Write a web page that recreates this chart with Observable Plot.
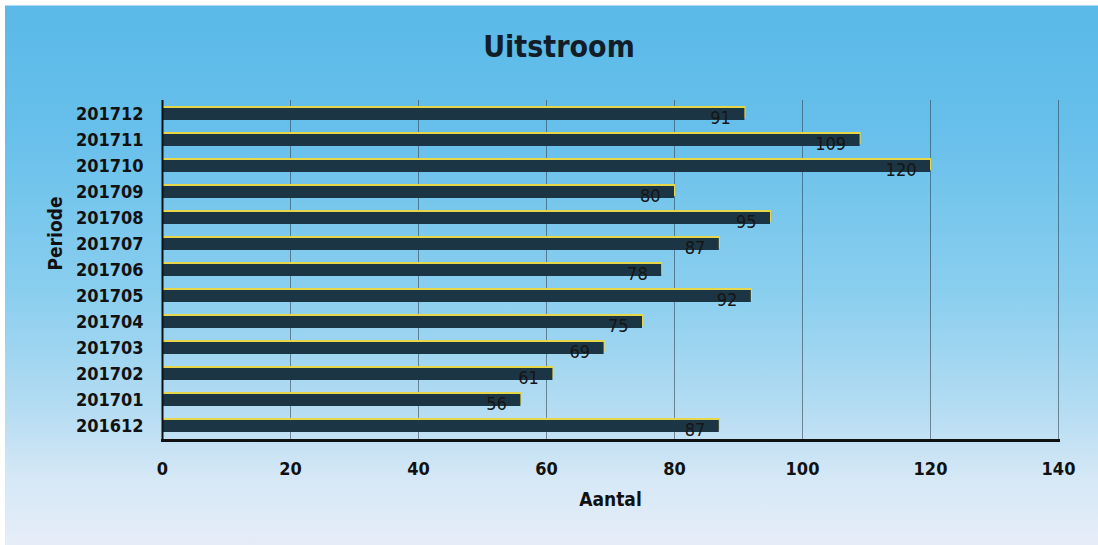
<!DOCTYPE html>
<html>
<head>
<meta charset="utf-8">
<script src="https://cdn.jsdelivr.net/npm/d3@7"></script>
<script src="https://cdn.jsdelivr.net/npm/@observablehq/plot@0.6"></script>
<style>
  html, body { margin: 0; padding: 0; background: #fff; }
  #wrap {
    position: relative; width: 1098px; height: 545px; overflow: hidden;
    background: linear-gradient(to bottom, #ffffff 0px, #ffffff 5px, #5ab9e8 6px, #68c0eb 25%, #8ccfef 55%, #b4dcf2 75%, #d6e8f6 88%, #e6edf8 100%);
    font-family: "DejaVu Sans Condensed", "DejaVu Sans", sans-serif;
  }
  #leftstrip { position: absolute; left: 0; top: 0; width: 5px; height: 545px; background: #fff; }
  #title {
    position: absolute; top: 28px; left: 10px; width: 1098px; text-align: center;
    font-size: 30px; font-weight: bold; color: #121d27; line-height: 38px;
  }
  #chart { position: absolute; left: 0; top: 80px; }
</style>
</head>
<body>
<div id="wrap">
  <div id="leftstrip"></div>
  <div id="title">Uitstroom</div>
  <div id="chart"></div>
</div>
<script>
const periods = ["201712","201711","201710","201709","201708","201707","201706","201705","201704","201703","201702","201701","201612"];
const values  = [91, 109, 120, 80, 95, 87, 78, 92, 75, 69, 61, 56, 87];
const xTicks  = [0, 20, 40, 60, 80, 100, 120, 140];

const data = periods.map((p, i) => ({period: p, value: values[i]}));
const FONT = "DejaVu Sans Condensed, DejaVu Sans, sans-serif";

const chart = Plot.plot({
  width: 1098,
  height: 465,
  marginLeft: 162,
  marginRight: 40,
  marginTop: 20,
  marginBottom: 105,
  style: {background: "transparent", fontFamily: FONT, color: "#111"},
  x: {domain: [0, 140], axis: null},
  y: {domain: periods, paddingInner: 0.55, paddingOuter: 0.1, axis: null},
  marks: [
    Plot.gridX(xTicks.slice(1), {stroke: "#2a3a48", strokeOpacity: 0.55, strokeWidth: 1}),
    Plot.axisX(xTicks, {tickSize: 0, tickPadding: 22, fontSize: 18, fontWeight: "bold", fill: "#111", label: null}),
    Plot.axisY({tickSize: 0, tickPadding: 19, fontSize: 18, fontWeight: "bold", fill: "#111", label: null}),
    Plot.barX(data, {x: "value", y: "period", fill: "#e6d64a", dy: -2, dx: 1}),
    Plot.barX(data, {x: "value", y: "period", fill: "#1b3545"}),
    Plot.text(data, {x: "value", y: "period", text: d => String(d.value), textAnchor: "end", dx: -14, dy: 4, fontSize: 18, fill: "#151515"}),
    Plot.ruleX([0], {stroke: "#111", strokeWidth: 2}),
    Plot.frame({anchor: "bottom", stroke: "#111", strokeWidth: 3}),
    Plot.text(["Periode"], {frameAnchor: "left", dx: -107, rotate: -90, text: d => d, fontSize: 19, fontWeight: "bold", fill: "#111"}),
    Plot.text(["Aantal"], {frameAnchor: "bottom", dy: 65, text: d => d, fontSize: 19, fontWeight: "bold", fill: "#111"})
  ]
});
document.getElementById("chart").appendChild(chart);
</script>
</body>
</html>
